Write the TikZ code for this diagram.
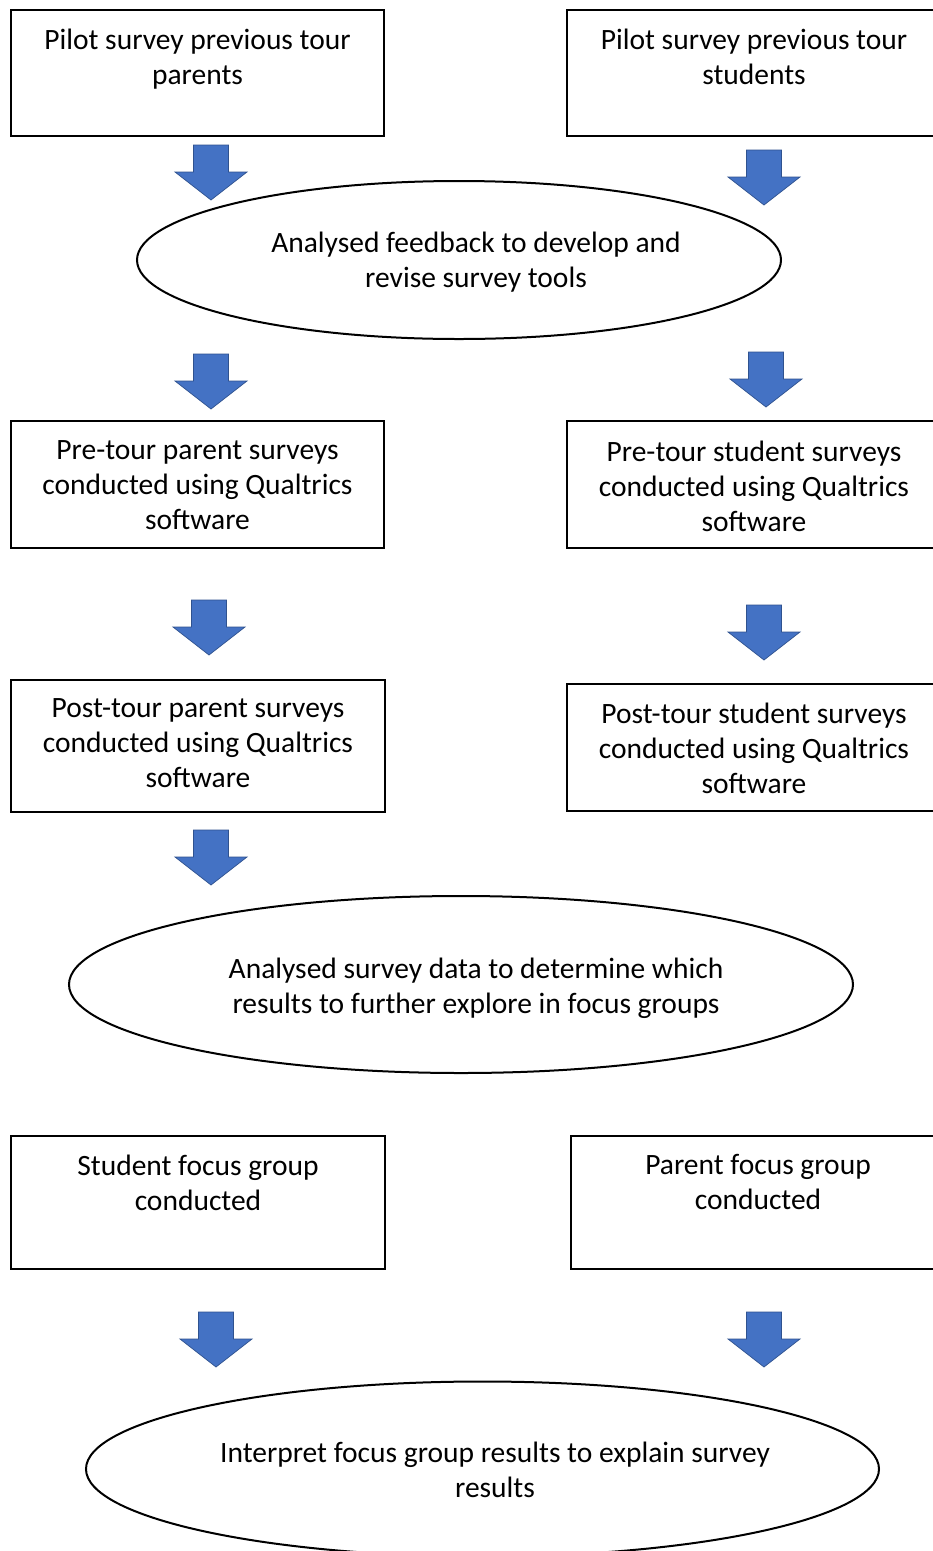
\documentclass[tikz,border=0pt]{standalone}
\usepackage{fontspec}
\setmainfont{Carlito}
\usetikzlibrary{shapes.geometric}
\definecolor{arrowfill}{HTML}{4472C4}
\definecolor{arrowline}{HTML}{2F528F}
\tikzset{
  box/.style={draw=black, line width=1.1pt, rectangle, inner sep=0pt},
  oval/.style={draw=black, line width=2pt, ellipse, inner sep=0pt},
  lbl/.style={anchor=north, inner sep=0pt, align=center,
    font=\fontsize{29.5}{35}\selectfont, execute at begin node=\strut},
  blockarrow/.style={fill=arrowfill, draw=arrowline, line width=0.7pt, line join=miter}
}
\newcommand{\downarrowshape}[2]{%
  \draw[blockarrow] (#1-17.5,#2) -- (#1+17.5,#2) -- (#1+17.5,#2+27) -- (#1+36,#2+27)
    -- (#1,#2+55) -- (#1-36,#2+27) -- (#1-17.5,#2+27) -- cycle;}
\begin{document}
\begin{tikzpicture}[x=1pt,y=-1pt]
\useasboundingbox (0,0) rectangle (933,1551);
\fill[white] (0,0) rectangle (933,1551);
\clip (0,0) rectangle (933,1551);
% boxes
\node[box, minimum width=373pt, minimum height=126pt] (b1) at (197.5,73) {};
\node[box, minimum width=374pt, minimum height=126pt] (b2) at (754,73) {};
\node[box, minimum width=373pt, minimum height=127pt] (b3) at (197.5,484.5) {};
\node[box, minimum width=374pt, minimum height=127pt] (b4) at (754,484.5) {};
\node[box, minimum width=374pt, minimum height=132pt] (b5) at (198,746) {};
\node[box, minimum width=374pt, minimum height=127pt] (b6) at (754,747.5) {};
\node[box, minimum width=374pt, minimum height=133pt] (b7) at (198,1202.5) {};
\node[box, minimum width=374pt, minimum height=133pt] (b8) at (758,1202.5) {};
% ellipses
\node[oval, minimum width=644pt, minimum height=158pt] (e1) at (459,260) {};
\node[oval, minimum width=784pt, minimum height=177pt] (e2) at (461,984.5) {};
\node[oval, minimum width=793pt, minimum height=175pt] (e3) at (482.5,1469) {};
% labels
\node[lbl] (t1) at (197.5,28.5) {Pilot survey previous tour\\parents};
\node[lbl] (t2) at (754,28.5) {Pilot survey previous tour\\students};
\node[lbl] (t3) at (476,231.5) {Analysed feedback to develop and\\revise survey tools};
\node[lbl] (t4) at (197.5,440.5) {Pre-tour parent surveys\\conducted using Qualtrics\\software};
\node[lbl] (t5) at (754,440.5) {Pre-tour student surveys\\conducted using Qualtrics\\software};
\node[lbl] (t6) at (198,698.5) {Post-tour parent surveys\\conducted using Qualtrics\\software};
\node[lbl] (t7) at (754,702.5) {Post-tour student surveys\\conducted using Qualtrics\\software};
\node[lbl] (t8) at (476,957.5) {Analysed survey data to determine which\\results to further explore in focus groups};
\node[lbl] (t9) at (198,1154.5) {Student focus group\\conducted};
\node[lbl] (t10) at (758,1154.5) {Parent focus group\\conducted};
\node[lbl] (t11) at (495,1441.5) {Interpret focus group results to explain survey\\results};
% block arrows
\downarrowshape{211}{145}
\downarrowshape{764}{150}
\downarrowshape{211}{354}
\downarrowshape{766}{352}
\downarrowshape{209}{600}
\downarrowshape{764}{605}
\downarrowshape{211}{830}
\downarrowshape{216}{1312}
\downarrowshape{764}{1312}
\end{tikzpicture}
\end{document}
